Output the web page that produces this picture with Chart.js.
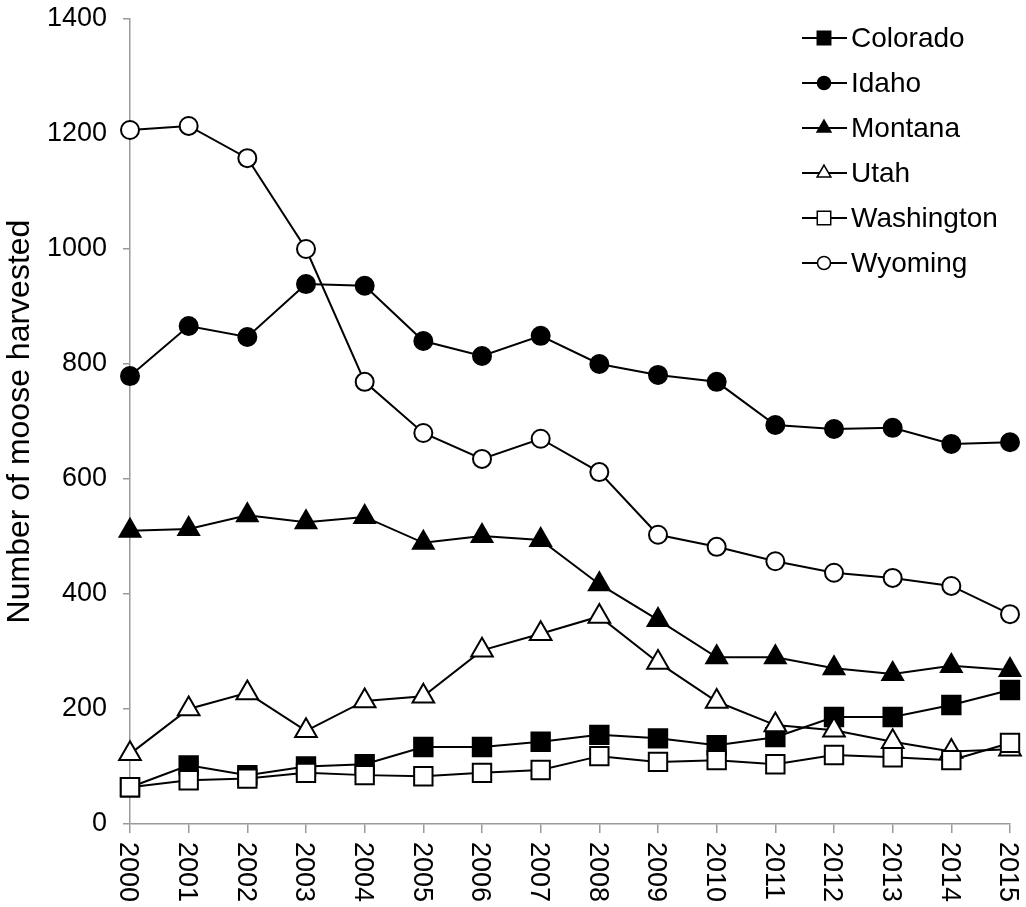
<!DOCTYPE html>
<html>
<head>
<meta charset="utf-8">
<script src="https://cdn.jsdelivr.net/npm/chart.js@4"></script>
<style>
  html, body { margin: 0; padding: 0; background: #fff; }
  #wrap { width: 1026px; height: 907px; }
</style>
</head>
<body>
<div id="wrap"><canvas id="c" width="1026" height="907"></canvas></div>
<script>
const years = ['2000','2001','2002','2003','2004','2005','2006','2007','2008','2009','2010','2011','2012','2013','2014','2015'];
const yTicks = [0, 200, 400, 600, 800, 1000, 1200, 1400];
const seriesNames = ['Colorado', 'Idaho', 'Montana', 'Utah', 'Washington', 'Wyoming'];
const colorado   = [64, 102, 85, 100, 104, 134, 134, 143, 155, 149, 137, 151, 186, 186, 207, 233];
const idaho      = [779, 866, 847, 939, 936, 840, 814, 849, 800, 781, 769, 694, 687, 689, 661, 664];
const montana    = [510, 513, 537, 525, 534, 489, 501, 494, 417, 355, 290, 290, 271, 261, 275, 268];
const utah       = [122, 200, 228, 162, 214, 222, 302, 331, 361, 281, 213, 172, 163, 143, 126, 130];
const washington = [64, 76, 79, 89, 85, 83, 89, 94, 118, 108, 111, 104, 120, 116, 111, 141];
const wyoming    = [1207, 1214, 1158, 1000, 769, 680, 635, 670, 612, 503, 482, 457, 437, 428, 414, 365];

const FONT = '"Liberation Sans", Arial, sans-serif';
const AXIS = '#9a9a9a';

const styles = [
  { pointStyle: 'rect',     fill: '#000', r: 13,  lr: 9.5 },
  { pointStyle: 'circle',   fill: '#000', r: 9,   lr: 6.5 },
  { pointStyle: 'triangle', fill: '#000', r: 12,  lr: 8 },
  { pointStyle: 'triangle', fill: '#fff', r: 12.5,lr: 8 },
  { pointStyle: 'rect',     fill: '#fff', r: 13,  lr: 9.5 },
  { pointStyle: 'circle',   fill: '#fff', r: 9,   lr: 6.5 }
];
const allData = [colorado, idaho, montana, utah, washington, wyoming];

const datasets = seriesNames.map((name, i) => ({
  label: name,
  data: allData[i],
  borderColor: '#000',
  borderWidth: 2,
  pointStyle: styles[i].pointStyle,
  pointRadius: styles[i].r,
  pointHoverRadius: styles[i].r,
  pointBackgroundColor: styles[i].fill,
  pointBorderColor: '#000',
  pointBorderWidth: 2,
  tension: 0,
  fill: false,
  clip: false,
  order: seriesNames.length - i
}));

function drawMarker(ctx, style, r, fill, x, y) {
  ctx.save();
  ctx.beginPath();
  if (style === 'rect') {
    const s = r * Math.SQRT1_2;
    ctx.rect(x - s, y - s, 2 * s, 2 * s);
  } else if (style === 'circle') {
    ctx.arc(x, y, r, 0, Math.PI * 2);
  } else {
    ctx.moveTo(x, y - r);
    ctx.lineTo(x + r * Math.sin(Math.PI / 3), y + r / 2);
    ctx.lineTo(x - r * Math.sin(Math.PI / 3), y + r / 2);
    ctx.closePath();
  }
  ctx.fillStyle = fill;
  ctx.fill();
  ctx.lineWidth = 1.5;
  ctx.strokeStyle = '#000';
  ctx.stroke();
  ctx.restore();
}

const customPlugin = {
  id: 'custom',
  afterDraw(chart) {
    const ctx = chart.ctx;
    const xs = chart.scales.x;
    ctx.save();
    ctx.fillStyle = '#000';
    ctx.font = '27px ' + FONT;
    ctx.textAlign = 'left';
    ctx.textBaseline = 'alphabetic';
    years.forEach((lab, i) => {
      const x = xs.getPixelForTick(i);
      ctx.save();
      ctx.translate(x, xs.top + 18);
      ctx.rotate(Math.PI / 2);
      ctx.fillText(lab, 0, 9.7);
      ctx.restore();
    });
    ctx.restore();
    ctx.save();
    seriesNames.forEach((name, i) => {
      const y = 38 + i * 45;
      ctx.beginPath();
      ctx.moveTo(802, y);
      ctx.lineTo(847, y);
      ctx.lineWidth = 2;
      ctx.strokeStyle = '#000';
      ctx.stroke();
      drawMarker(ctx, styles[i].pointStyle, styles[i].lr, styles[i].fill, 824, y);
      ctx.fillStyle = '#000';
      ctx.font = '28px ' + FONT;
      ctx.textAlign = 'left';
      ctx.textBaseline = 'middle';
      ctx.fillText(name, 851, y + 1);
    });
    ctx.restore();
  }
};

new Chart(document.getElementById('c'), {
  type: 'line',
  data: { labels: years, datasets },
  options: {
    responsive: false,
    animation: false,
    events: [],
    layout: { padding: { top: 19, right: 16, left: 0, bottom: 0 } },
    plugins: { legend: { display: false }, tooltip: { enabled: false } },
    scales: {
      x: {
        type: 'category',
        offset: false,
        grid: { display: true, drawOnChartArea: false, drawTicks: true, tickLength: 9, color: AXIS, lineWidth: 1.5 },
        border: { display: true, color: AXIS, width: 1.5 },
        ticks: { display: false },
        afterFit(scale) { scale.height = 83; scale.paddingLeft = 0; scale.paddingRight = 0; }
      },
      y: {
        min: 0,
        max: 1400,
        afterBuildTicks(scale) { scale.ticks = yTicks.map(v => ({ value: v })); },
        grid: { display: true, drawOnChartArea: false, drawTicks: true, tickLength: 7, color: AXIS, lineWidth: 1.5 },
        border: { display: true, color: AXIS, width: 1.5 },
        ticks: { color: '#000', font: { family: FONT, size: 27 }, padding: 16, callback: v => String(v) },
        title: { display: true, text: 'Number of moose harvested', color: '#000', font: { family: FONT, size: 32 }, padding: { top: 1, bottom: 0 } },
        afterFit(scale) { scale.width = 130; scale.paddingTop = 0; scale.paddingBottom = 0; }
      }
    }
  },
  plugins: [customPlugin]
});
</script>
</body>
</html>
